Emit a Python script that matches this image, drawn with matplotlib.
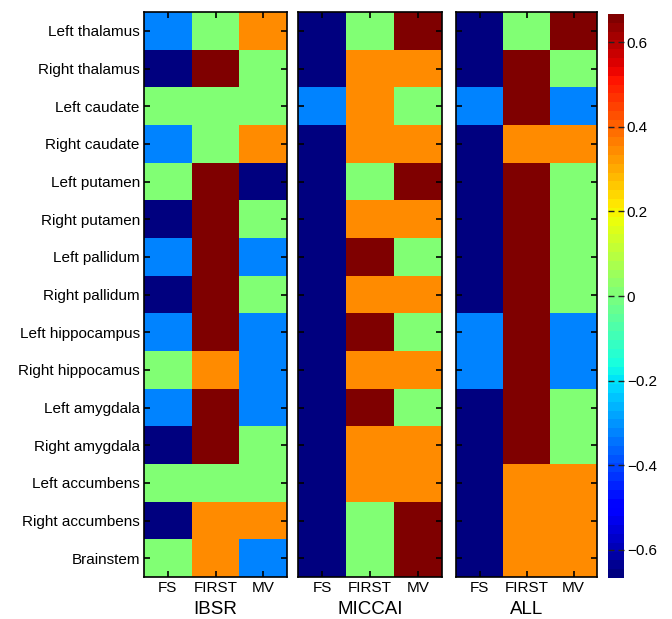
import numpy as np
import matplotlib
matplotlib.use("Agg")
import matplotlib.pyplot as plt

plt.rcParams['font.family'] = ['Liberation Sans', 'DejaVu Sans']

# Ranking scores (-2/3 .. 2/3) per structure and method
structures = ["Left thalamus", "Right thalamus", "Left caudate", "Right caudate",
              "Left putamen", "Right putamen", "Left pallidum", "Right pallidum",
              "Left hippocampus", "Right hippocamus", "Left amygdala", "Right amygdala",
              "Left accumbens", "Right accumbens", "Brainstem"]
methods = ["FS", "FIRST", "MV"]
datasets = ["IBSR", "MICCAI", "ALL"]

D, L, G, O, R = -2/3, -1/3, 0.0, 1/3, 2/3

ibsr = [[L, G, O], [D, R, G], [G, G, G], [L, G, O], [G, R, D],
        [D, R, G], [L, R, L], [D, R, G], [L, R, L], [G, O, L],
        [L, R, L], [D, R, G], [G, G, G], [D, O, O], [G, O, L]]
miccai = [[D, G, R], [D, O, O], [L, O, G], [D, O, O], [D, G, R],
          [D, O, O], [D, R, G], [D, O, O], [D, R, G], [D, O, O],
          [D, R, G], [D, O, O], [D, O, O], [D, G, R], [D, G, R]]
all_ = [[D, G, R], [D, R, G], [L, R, L], [D, O, O], [D, R, G],
        [D, R, G], [D, R, G], [D, R, G], [L, R, L], [L, R, L],
        [D, R, G], [D, R, G], [D, O, O], [D, O, O], [D, O, O]]
panels = [ibsr, miccai, all_]

cbar_ticks = [-0.6, -0.4, -0.2, 0, 0.2, 0.4, 0.6]

W, H = 672, 619
fig = plt.figure(figsize=(W/100, H/100), dpi=100)
fig.patch.set_facecolor('white')

def px_rect(x0, x1, y0, y1):
    return [x0/W, (H - y1)/H, (x1 - x0)/W, (y1 - y0)/H]

cmap = plt.get_cmap('jet', 64)
xs = [(144, 287), (298, 442), (456, 597)]
y_top, y_bot = 12, 577

for i, (vals, name) in enumerate(zip(panels, datasets)):
    ax = fig.add_axes(px_rect(xs[i][0], xs[i][1], y_top, y_bot))
    im = ax.imshow(np.array(vals), cmap=cmap, vmin=-2/3, vmax=2/3,
                   aspect='auto', interpolation='nearest')
    ax.set_xticks(range(len(methods)))
    ax.set_xticklabels(methods, fontsize=11)
    ax.set_yticks(range(len(structures)))
    if i == 0:
        ax.set_yticklabels(structures, fontsize=11)
    else:
        ax.set_yticklabels([])
    ax.tick_params(direction='in', top=True, right=True, length=4, width=1.2,
                   pad=3)
    ax.set_xlabel(name, fontsize=13.5, labelpad=4)
    for s in ax.spines.values():
        s.set_linewidth(1.2)

cax = fig.add_axes(px_rect(608, 624, 14, 578))
cb = fig.colorbar(im, cax=cax, ticks=cbar_ticks)
cb.ax.set_yticklabels([("\u2212" if t < 0 else "") + ("%g" % abs(t)) for t in cbar_ticks],
                      fontsize=11)
cb.outline.set_visible(False)
cb.ax.tick_params(direction='in', left=True, right=True, length=4, width=1,
                  color='#222222', pad=2)

fig.savefig("out.png", dpi=100)
